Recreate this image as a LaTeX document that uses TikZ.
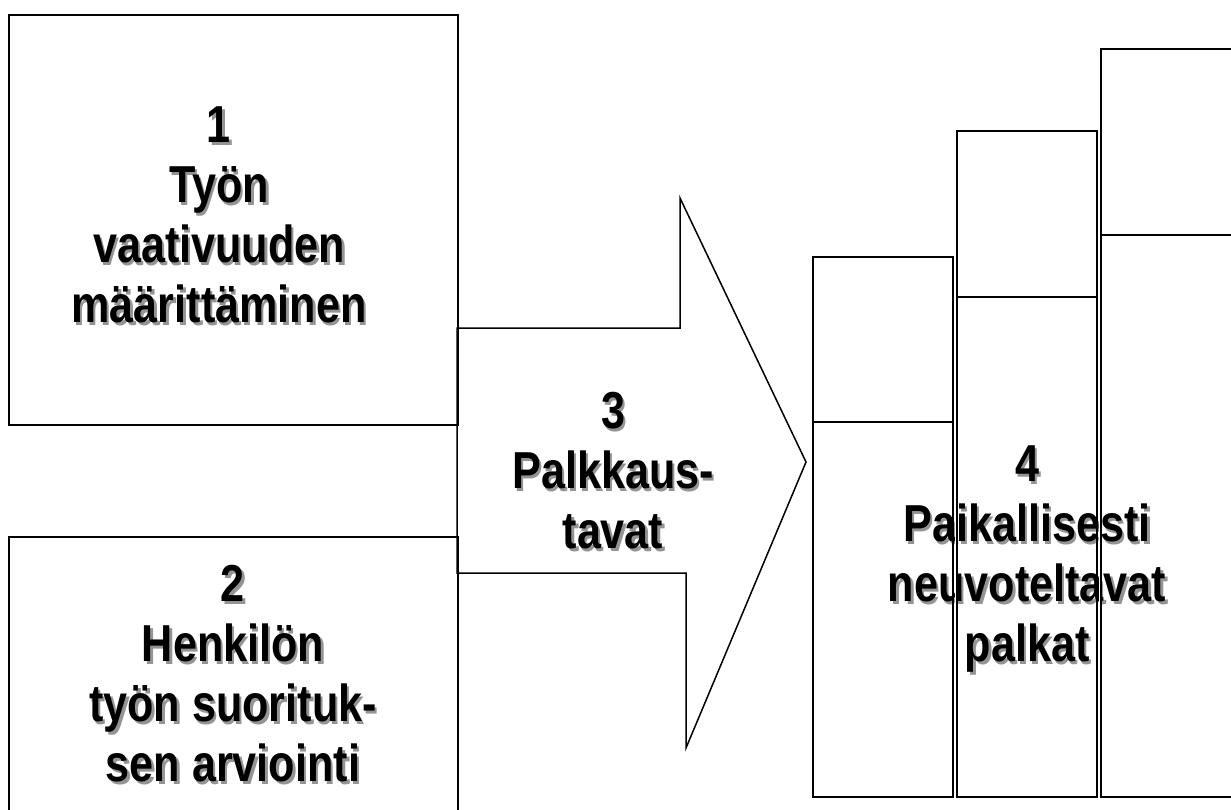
\documentclass[tikz,border=0pt]{standalone}
\usepackage{fontspec}
\setmainfont{Liberation Sans}
\newfontfamily\narrowsans{Liberation Sans}[FakeStretch=0.83]
\definecolor{shadowgray}{gray}{0.58}
\tikzset{
  boxline/.style={draw=black, line width=1.8pt, fill=none},
  arrowline/.style={draw=black, line width=1.5pt, line join=miter, fill=white},
  barline/.style={draw=black, line width=1.8pt},
  labeltext/.style={inner sep=0pt, font=\narrowsans\bfseries\fontsize{52}{60}\selectfont},
}
\newcommand\shadowlines[1]{\begin{tabular}{@{}c@{}}#1\end{tabular}}
\newcommand\shadowtxt[1]{\leavevmode\rlap{\kern2.5pt\raisebox{-2.5pt}{\color{shadowgray}\shadowlines{#1}}}\shadowlines{#1}}
\begin{document}
\begin{tikzpicture}[x=1pt,y=-1pt]
\useasboundingbox (0,0) rectangle (1231,810);
\clip (0,0) rectangle (1231,810);
% arrow 3
\draw[arrowline] (457,328) -- (680,328) -- (680,198) -- (806,462) -- (686,748) -- (686,573) -- (457,573) -- cycle;
% boxes 1 and 2
\node[boxline, anchor=north west, minimum width=449pt, minimum height=410pt] (box1) at (8,14) {};
\node[boxline, anchor=north west, minimum width=449pt, minimum height=300pt] (box2) at (8,536) {};
% texts
\node[labeltext] (t1) at (219,222) {\shadowtxt{1\\Työn\\vaativuuden\\määrittäminen}};
\node[labeltext] (t2) at (233,681) {\shadowtxt{2\\Henkilön\\työn suorituk-\\sen arviointi}};
\node[labeltext] (t3) at (613,478) {\shadowtxt{3\\Palkkaus-\\tavat}};
\node[labeltext] (t4) at (1027,561) {\shadowtxt{4\\Paikallisesti\\neuvoteltavat\\palkat}};
% white gaps between bars
\fill[white] (954.5,257) rectangle (955.5,797);
\fill[white] (1098.5,131) rectangle (1099.5,797);
% bars
\draw[barline] (813,257) rectangle (953,797);
\draw[barline] (813,422) -- (953,422);
\draw[barline] (957,131) rectangle (1097,797);
\draw[barline] (957,297) -- (1097,297);
\draw[barline] (1101,49) rectangle (1245,797);
\draw[barline] (1101,235) -- (1245,235);
\end{tikzpicture}
\end{document}
